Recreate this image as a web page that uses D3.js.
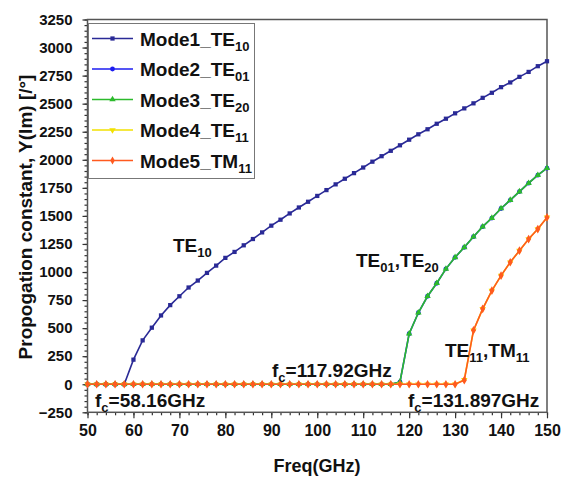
<!DOCTYPE html>
<html>
<head>
<meta charset="utf-8">
<script src="https://cdn.jsdelivr.net/npm/d3@7"></script>
<style>
  body { margin: 0; background: #fff; }
  text { font-family: Arial, "Liberation Sans", sans-serif; font-weight: bold; fill: #111; }
</style>
</head>
<body>
<svg width="566" height="482"></svg>
<script>
// frequencies (GHz)
var freq = [50,52,54,56,58,60,62,64,66,68,70,72,74,76,78,80,82,84,86,88,90,92,94,96,98,
            100,102,104,106,108,110,112,114,116,118,120,122,124,126,128,130,132,134,136,138,140,142,144,146,148,150];

var mode1 = [0,0,0,0,0,219,391,504,613,705,784,862,924,992,1057,1126,1179,1238,1294,1353,1413,1466,1522,1575,1626,
             1678,1730,1781,1831,1881,1931,1983,2032,2080,2129,2179,2227,2272,2321,2366,2414,2458,2503,2552,2597,2647,2689,2739,2783,2834,2878];

var mode2 = [0,0,0,0,0,0,0,0,0,0,0,0,0,0,0,0,0,0,0,0,0,0,0,0,0,0,0,0,0,0,0,0,0,0,
             20,450,637,784,900,1028,1131,1220,1315,1404,1481,1566,1641,1717,1792,1863,1925];

var mode3 = [0,0,0,0,0,0,0,0,0,0,0,0,0,0,0,0,0,0,0,0,0,0,0,0,0,0,0,0,0,0,0,0,0,0,
             20,450,637,784,900,1028,1131,1220,1315,1404,1481,1566,1641,1717,1792,1863,1925];

var mode4 = [0,0,0,0,0,0,0,0,0,0,0,0,0,0,0,0,0,0,0,0,0,0,0,0,0,0,0,0,0,0,0,0,0,0,0,0,0,0,0,0,0,
             40,480,672,835,968,1087,1190,1294,1383,1486];

var mode5 = [0,0,0,0,0,0,0,0,0,0,0,0,0,0,0,0,0,0,0,0,0,0,0,0,0,0,0,0,0,0,0,0,0,0,0,0,0,0,0,0,0,
             36,480,672,835,968,1087,1190,1294,1383,1486];

var xTicks = [50,60,70,80,90,100,110,120,130,140,150];
var yTicks = [-250,0,250,500,750,1000,1250,1500,1750,2000,2250,2500,2750,3000,3250];

var series = [
  {nome: "Mode1_TE", sub: "10", valores: mode1, cor: "#2a2a96", simbolo: d3.symbolSquare},
  {nome: "Mode2_TE", sub: "01", valores: mode2, cor: "#1c1cf0", simbolo: d3.symbolCircle},
  {nome: "Mode3_TE", sub: "20", valores: mode3, cor: "#2cba2c", simbolo: d3.symbolTriangle},
  {nome: "Mode4_TE", sub: "11", valores: mode4, cor: "#f2e100", simbolo: d3.symbolTriangle, invertido: true},
  {nome: "Mode5_TM", sub: "11", valores: mode5, cor: "#ff5a1f", simbolo: d3.symbolDiamond}
];

var svg = d3.select("svg");
var esq = 87.5, dir = 547, topo = 19.5, base = 412.3;

var x = d3.scaleLinear().domain([50, 150]).range([esq, dir]);
var y = d3.scaleLinear().domain([-250, 3250]).range([base, topo]);

// eixo x
var gx = svg.append("g").attr("transform", "translate(0," + base + ")");
gx.call(d3.axisBottom(x).tickValues(d3.range(50, 151, 2)).tickSize(3).tickFormat(""));
gx.call(function(g){ g.selectAll(".domain").remove(); });
var gx2 = svg.append("g").attr("transform", "translate(0," + base + ")");
gx2.call(d3.axisBottom(x).tickValues(xTicks).tickSize(6).tickPadding(4).tickFormat(d3.format("d")));
gx2.selectAll("text").attr("font-size", 16).attr("dy", "0.85em");

// eixo y
var gy = svg.append("g").attr("transform", "translate(" + esq + ",0)");
gy.call(d3.axisLeft(y).tickValues(d3.range(-250, 3251, 50)).tickSize(3).tickFormat(""));
gy.call(function(g){ g.selectAll(".domain").remove(); });
var gy2 = svg.append("g").attr("transform", "translate(" + esq + ",0)");
gy2.call(d3.axisLeft(y).tickValues(yTicks).tickSize(5).tickPadding(10).tickFormat(d3.format("d")));
gy2.selectAll("text").attr("font-size", 15);

svg.selectAll(".tick line").attr("stroke", "#333").attr("stroke-width", 1.2);
svg.selectAll(".domain").attr("stroke", "none");
svg.selectAll(".tick text").style("font-family", "Arial, 'Liberation Sans', sans-serif").style("font-weight", "bold").attr("fill", "#111");

// moldura
svg.append("rect")
  .attr("x", esq).attr("y", topo)
  .attr("width", dir - esq).attr("height", base - topo)
  .attr("fill", "none").attr("stroke", "#555").attr("stroke-width", 1.5);

// curvas
var linha = d3.line()
  .x(function(d, i) { return x(freq[i]); })
  .y(function(d) { return y(d); });

series.forEach(function(s) {
  svg.append("path")
    .datum(s.valores)
    .attr("d", linha)
    .attr("fill", "none")
    .attr("stroke", s.cor)
    .attr("stroke-width", 1.6);

  svg.append("g").selectAll("path")
    .data(s.valores)
    .enter().append("path")
      .attr("d", d3.symbol().type(s.simbolo).size(s.simbolo == d3.symbolDiamond ? 22 : 18))
      .attr("transform", function(d, i) {
        return "translate(" + x(freq[i]) + "," + y(d) + ")" + (s.invertido ? " rotate(180)" : "");
      })
      .attr("fill", s.cor);
});

// legenda
var leg = svg.append("g");
leg.append("rect")
  .attr("x", 88.5).attr("y", 23.5).attr("width", 166).attr("height", 155)
  .attr("fill", "#fff").attr("stroke", "#777").attr("stroke-width", 1);

var item = leg.selectAll("g.item")
  .data(series)
  .enter().append("g")
    .attr("class", "item")
    .attr("transform", function(d, i) { return "translate(0," + (38.5 + i * 30.5) + ")"; });

item.append("line")
  .attr("x1", 92).attr("x2", 133).attr("y1", 0).attr("y2", 0)
  .attr("stroke", function(d) { return d.cor; }).attr("stroke-width", 1.6);
item.append("path")
  .attr("d", function(d) { return d3.symbol().type(d.simbolo).size(18)(); })
  .attr("transform", function(d) { return "translate(112.5,0)" + (d.invertido ? " rotate(180)" : ""); })
  .attr("fill", function(d) { return d.cor; });

var txt = item.append("text")
  .attr("x", 140).attr("y", 7)
  .attr("font-size", 19);
txt.append("tspan").text(function(d) { return d.nome; });
txt.append("tspan").attr("font-size", 13).attr("dy", 5).text(function(d) { return d.sub; });

// anotacoes
function anota(px, py, partes) {
  var t = svg.append("text").attr("x", px).attr("y", py).attr("font-size", 19);
  partes.forEach(function(p) {
    if (p.sub) t.append("tspan").attr("font-size", 13).attr("dy", 5).text(p.t);
    else t.append("tspan").attr("dy", p.volta ? -5 : 0).text(p.t);
  });
}

anota(173, 251.5, [{t: "TE"}, {t: "10", sub: true}]);
anota(356, 266.5, [{t: "TE"}, {t: "01", sub: true}, {t: ",TE", volta: true}, {t: "20", sub: true}]);
anota(445, 356.5, [{t: "TE"}, {t: "11", sub: true}, {t: ",TM", volta: true}, {t: "11", sub: true}]);
anota(272, 377, [{t: "f"}, {t: "c", sub: true}, {t: "=117.92GHz", volta: true}]);
anota(95, 406.5, [{t: "f"}, {t: "c", sub: true}, {t: "=58.16GHz", volta: true}]);
anota(408, 406.5, [{t: "f"}, {t: "c", sub: true}, {t: "=131.897GHz", volta: true}]);

// titulos dos eixos
svg.append("text")
  .attr("x", 317).attr("y", 471.5)
  .attr("text-anchor", "middle")
  .attr("font-size", 18)
  .text("Freq(GHz)");

svg.append("text")
  .attr("transform", "translate(32,217) rotate(-90)")
  .attr("text-anchor", "middle")
  .attr("font-size", 19)
  .text("Propogation constant, Y(Im) [/°]");
</script>
</body>
</html>
